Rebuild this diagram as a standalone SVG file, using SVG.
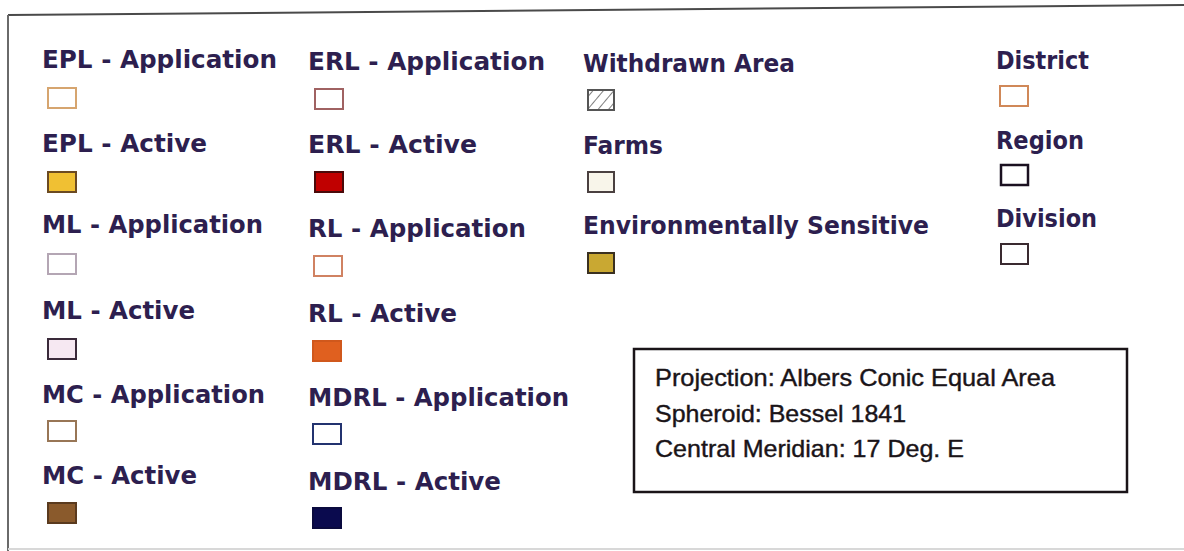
<svg xmlns="http://www.w3.org/2000/svg" width="1184" height="551" viewBox="0 0 1184 551">
<style>
.lbl{font-family:"DejaVu Sans",Verdana,sans-serif;font-weight:bold;font-size:24px;fill:#2d1f4f}
.info{font-family:"Liberation Sans",Arial,sans-serif;font-size:24px;fill:#1a1418;stroke:#1a1418;stroke-width:0.4}
.sw{stroke-width:2}
</style>
<defs>
<pattern id="hatch" patternUnits="userSpaceOnUse" width="8" height="8" patternTransform="rotate(40)">
<rect width="8" height="8" fill="#fff"/>
<line x1="0" y1="0" x2="0" y2="8" stroke="#555" stroke-width="1.5"/>
</pattern>
</defs>
<rect width="1184" height="551" fill="#fff"/>
<g id="frame" fill="none">
<line x1="8" y1="15" x2="1184" y2="5" stroke="#4a4a4a" stroke-width="2"/>
<line x1="8" y1="15" x2="8" y2="551" stroke="#6a6a6a" stroke-width="2"/>
<line x1="8" y1="549" x2="1184" y2="549" stroke="#d8d8d8" stroke-width="2"/>
</g>
<g id="epl-app"><text class="lbl" x="42" y="68" textLength="235" lengthAdjust="spacingAndGlyphs">EPL - Application</text><rect class="sw" x="48" y="88" width="28" height="20" fill="#fff" stroke="#d6a56f"/></g>
<g id="epl-act"><text class="lbl" x="42" y="152" textLength="165" lengthAdjust="spacingAndGlyphs">EPL - Active</text><rect class="sw" x="48" y="172" width="28" height="20" fill="#f0c033" stroke="#6b4a22"/></g>
<g id="ml-app"><text class="lbl" x="42" y="233" textLength="221" lengthAdjust="spacingAndGlyphs">ML - Application</text><rect class="sw" x="48" y="254" width="28" height="20" fill="#fff" stroke="#b4a6b4"/></g>
<g id="ml-act"><text class="lbl" x="42" y="319" textLength="153" lengthAdjust="spacingAndGlyphs">ML - Active</text><rect class="sw" x="48" y="339" width="28" height="20" fill="#f6e8f2" stroke="#3a2a3a"/></g>
<g id="mc-app"><text class="lbl" x="42" y="403" textLength="223" lengthAdjust="spacingAndGlyphs">MC - Application</text><rect class="sw" x="48" y="421" width="28" height="20" fill="#fff" stroke="#987656"/></g>
<g id="mc-act"><text class="lbl" x="42" y="484" textLength="155" lengthAdjust="spacingAndGlyphs">MC - Active</text><rect class="sw" x="48" y="503" width="28" height="20" fill="#8a5a2c" stroke="#5a3a1e"/></g>

<g id="erl-app"><text class="lbl" x="308" y="70" textLength="237" lengthAdjust="spacingAndGlyphs">ERL - Application</text><rect class="sw" x="315" y="89" width="28" height="20" fill="#fff" stroke="#a06262"/></g>
<g id="erl-act"><text class="lbl" x="308" y="153" textLength="169" lengthAdjust="spacingAndGlyphs">ERL - Active</text><rect class="sw" x="315" y="172" width="28" height="20" fill="#c00000" stroke="#4a0a0a"/></g>
<g id="rl-app"><text class="lbl" x="308" y="237" textLength="218" lengthAdjust="spacingAndGlyphs">RL - Application</text><rect class="sw" x="314" y="256" width="28" height="20" fill="#fff" stroke="#d08262"/></g>
<g id="rl-act"><text class="lbl" x="308" y="322" textLength="149" lengthAdjust="spacingAndGlyphs">RL - Active</text><rect class="sw" x="313" y="341" width="28" height="20" fill="#e0601f" stroke="#d0581c"/></g>
<g id="mdrl-app"><text class="lbl" x="308" y="406" textLength="261" lengthAdjust="spacingAndGlyphs">MDRL - Application</text><rect class="sw" x="313" y="424" width="28" height="20" fill="#fff" stroke="#23336f"/></g>
<g id="mdrl-act"><text class="lbl" x="308" y="490" textLength="193" lengthAdjust="spacingAndGlyphs">MDRL - Active</text><rect class="sw" x="313" y="508" width="28" height="20" fill="#0a0a4e" stroke="#0a0a3e"/></g>

<g id="withdrawn"><text class="lbl" x="583" y="72" textLength="212" lengthAdjust="spacingAndGlyphs">Withdrawn Area</text><rect class="sw" x="588" y="90" width="26" height="20" fill="url(#hatch)" stroke="#555"/></g>
<g id="farms"><text class="lbl" x="583" y="154" textLength="80" lengthAdjust="spacingAndGlyphs">Farms</text><rect class="sw" x="588" y="172" width="26" height="20" fill="#f8f5ea" stroke="#4a4040"/></g>
<g id="env"><text class="lbl" x="583" y="234" textLength="346" lengthAdjust="spacingAndGlyphs">Environmentally Sensitive</text><rect class="sw" x="588" y="253" width="26" height="20" fill="#c9a832" stroke="#3a3020"/></g>

<g id="district"><text class="lbl" x="996" y="69" textLength="93" lengthAdjust="spacingAndGlyphs">District</text><rect class="sw" x="1000" y="86" width="28" height="20" fill="#fff" stroke="#d08858"/></g>
<g id="region"><text class="lbl" x="996" y="149" textLength="88" lengthAdjust="spacingAndGlyphs">Region</text><rect x="1001" y="165" width="27" height="20" fill="#fff" stroke="#1a1020" stroke-width="2.5"/></g>
<g id="division"><text class="lbl" x="996" y="227" textLength="101" lengthAdjust="spacingAndGlyphs">Division</text><rect class="sw" x="1001" y="244" width="27" height="20" fill="#fff" stroke="#3a2a30"/></g>

<g id="projection-box">
<rect x="634" y="349" width="493" height="143" fill="#fff" stroke="#1a1418" stroke-width="2.5"/>
<text class="info" x="655" y="386" textLength="400" lengthAdjust="spacingAndGlyphs">Projection: Albers Conic Equal Area</text>
<text class="info" x="655" y="422" textLength="251" lengthAdjust="spacingAndGlyphs">Spheroid: Bessel 1841</text>
<text class="info" x="655" y="457" textLength="309" lengthAdjust="spacingAndGlyphs">Central Meridian: 17 Deg. E</text>
</g>
<g id="connectors"/>
</svg>
